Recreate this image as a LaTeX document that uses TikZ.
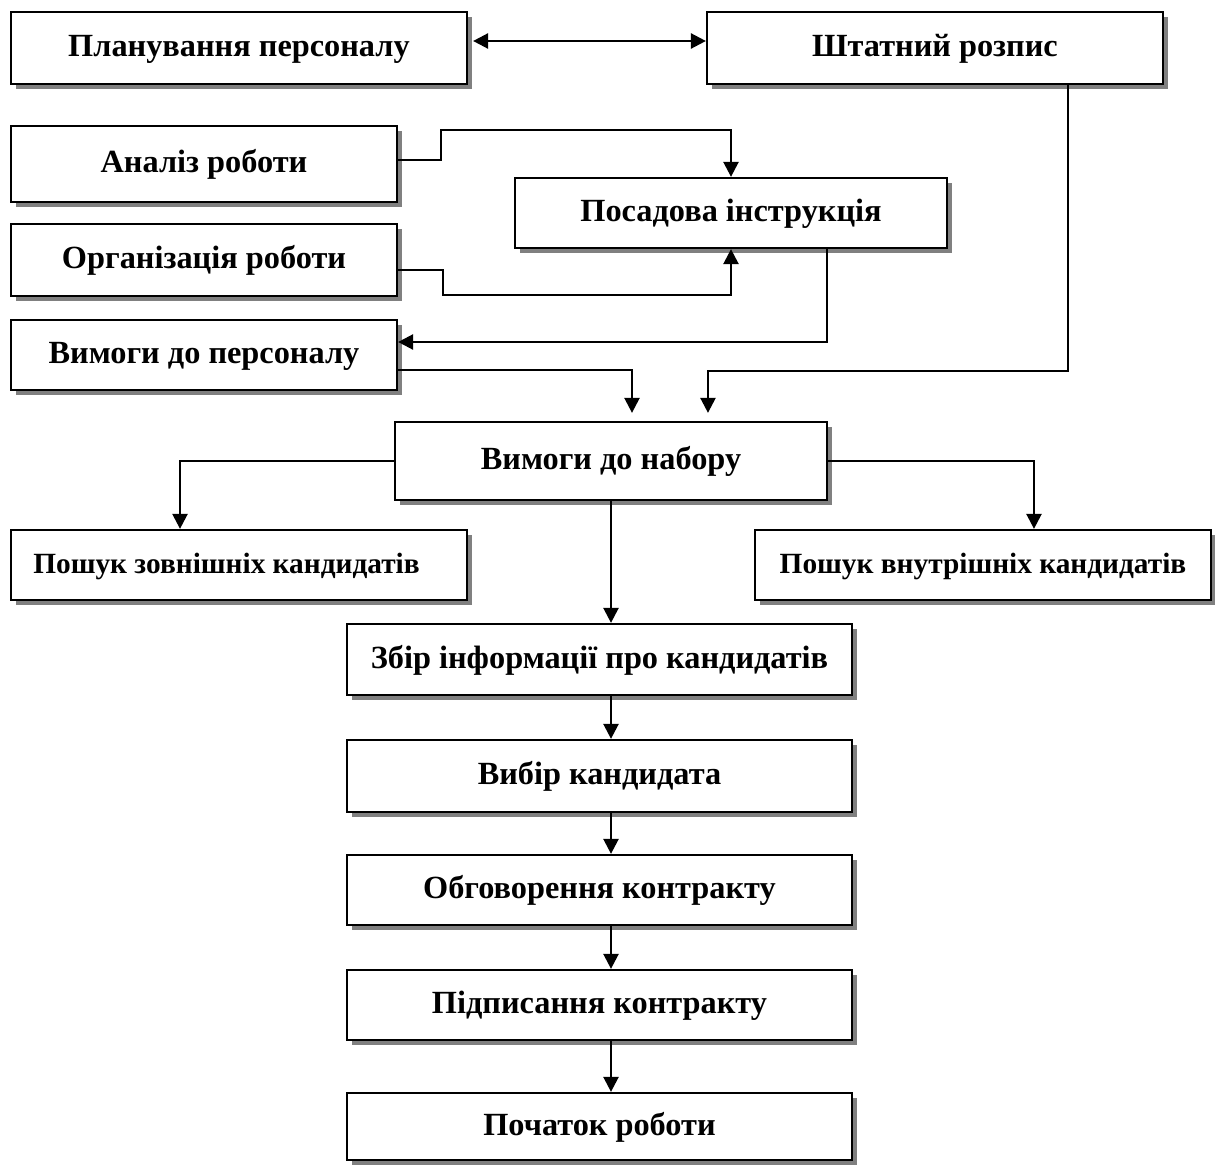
\documentclass[tikz,border=0pt]{standalone}
\usepackage{fontspec}
\setmainfont{Liberation Serif}
\usetikzlibrary{arrows.meta,shadows}

\tikzset{
	blok/.style={draw, line width=1.3pt, fill=white, minimum width=#1, minimum height=1.42cm,
		inner sep=2pt, font=\fontsize{18.4}{22}\selectfont\bfseries,
		text height=0.5cm, text depth=0.15cm,
		drop shadow={shadow xshift=0.1cm, shadow yshift=-0.1cm, fill=black!50, opacity=1}},
	poshuk/.style={font=\fontsize{16.7}{20}\selectfont\bfseries},
	lin/.style={line width=1.4pt}
}

\begin{document}
\begin{tikzpicture}[x=0.02cm, y=-0.02cm, >={Triangle[length=0.3cm,width=0.3cm]}]
	\useasboundingbox (0,0) rectangle (1215,1166);
	%верхній ряд
	\node [blok=9.12cm, minimum height=1.44cm] (plan) at (239,48) {Планування персоналу};
	\node [blok=9.12cm, minimum height=1.44cm] (shtat) at (935,48) {Штатний розпис};
	%ліва колонка
	\node [blok=7.72cm, minimum height=1.52cm] (analiz) at (204,164) {Аналіз роботи};
	\node [blok=7.72cm, minimum height=1.44cm] (org) at (204,260) {Організація роботи};
	\node [blok=7.72cm, minimum height=1.40cm] (vymper) at (204,355) {Вимоги до персоналу};
	\node [blok=8.64cm, minimum height=1.40cm] (posada) at (731,213) {Посадова інструкція};
	%вимоги до набору
	\node [blok=8.64cm, minimum height=1.56cm] (nabir) at (611,461) {Вимоги до набору};
	\node [blok=9.12cm, minimum height=1.40cm, poshuk] (zovn) at (239,565) {Пошук зовнішніх кандидатів\hspace*{0.5cm}};
	\node [blok=9.12cm, minimum height=1.40cm, poshuk] (vnutr) at (983,565) {Пошук внутрішніх кандидатів};
	%ланцюжок відбору
	\node [blok=10.1cm, minimum height=1.42cm] (zbir) at (599.5,659.5) {Збір інформації про кандидатів};
	\node [blok=10.1cm, minimum height=1.44cm] (vybir) at (599.5,776) {Вибір кандидата};
	\node [blok=10.1cm, minimum height=1.40cm] (obgov) at (599.5,890) {Обговорення контракту};
	\node [blok=10.1cm, minimum height=1.40cm] (pidpys) at (599.5,1005) {Підписання контракту};
	\node [blok=10.1cm, minimum height=1.34cm] (pochatok) at (599.5,1126.5) {Початок роботи};

	%двобічна стрілка
	\draw [lin, <->] ([xshift=0.1cm,yshift=0.14cm]plan.east) -- ([yshift=0.14cm]shtat.west);
	%до посадової інструкції
	\draw [lin, ->] ([yshift=0.08cm]analiz.east) -- ++(43,0) |- ++(0,-30) -| (posada.north);
	\draw [lin, ->] ([yshift=-0.2cm]org.east) -- ++(45,0) |- ++(0,25) -| (posada.south);
	%до вимог до персоналу
	\draw [lin, ->] ([xshift=1.92cm]posada.south) |- ([yshift=0.26cm]vymper.east);
	%до вимог до набору
	\draw [lin, ->] ([yshift=-0.3cm]vymper.east) -| ([xshift=0.42cm,yshift=0.16cm]nabir.north);
	\draw [lin, ->] ([xshift=2.66cm]shtat.south) -- ++(0,286) -| ([xshift=1.94cm,yshift=0.16cm]nabir.north);
	%пошук кандидатів
	\draw [lin, ->] (nabir.west) -| ([xshift=-1.18cm]zovn.north);
	\draw [lin, ->] (nabir.east) -| ([xshift=1.02cm]vnutr.north);
	\draw [lin, ->] (nabir.south) -- (nabir.south |- zbir.north);
	%вертикальні стрілки
	\foreach \a/\b in {zbir/vybir, vybir/obgov, obgov/pidpys, pidpys/pochatok}
		\draw [lin, ->] (\a.south -| nabir.south) -- (\b.north -| nabir.south);
\end{tikzpicture}
\end{document}
